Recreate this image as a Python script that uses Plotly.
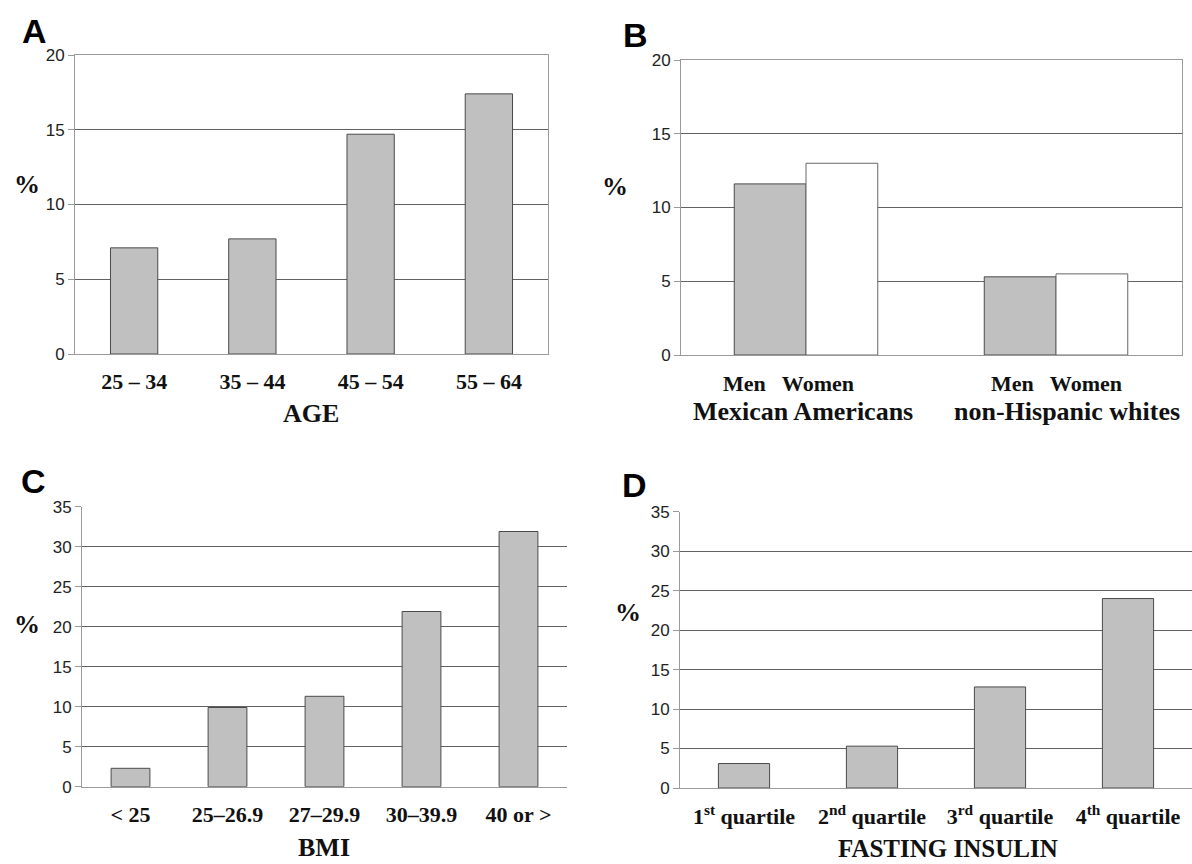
import plotly.graph_objects as go

# ---- data ----
age_groups = ["25 – 34", "35 – 44", "45 – 54", "55 – 64"]
age_pct = [7.1, 7.7, 14.7, 17.4]

ethnic_groups = ["Mexican Americans", "non-Hispanic whites"]
men_pct = [11.6, 5.3]
women_pct = [13.0, 5.5]

bmi_groups = ["< 25", "25–26.9", "27–29.9", "30–39.9", "40 or >"]
bmi_pct = [2.3, 9.9, 11.3, 21.9, 31.9]

insulin_groups = ["1<sup>st</sup> quartile", "2<sup>nd</sup> quartile",
                  "3<sup>rd</sup> quartile", "4<sup>th</sup> quartile"]
insulin_pct = [3.1, 5.3, 12.8, 24.0]

ticks_20 = [0, 5, 10, 15, 20]
ticks_35 = [0, 5, 10, 15, 20, 25, 30, 35]

# ---- style ----
W, H = 1192, 864
GRAY = "#c0c0c0"
EDGE = "#4a4a4a"
GRID = "#626262"
AXL = "#9a9a9a"
SANS = "Liberation Sans, Arial, sans-serif"
SERIF = "Liberation Serif, Times New Roman, serif"


def px(x):
    return x / W


def py(y):
    return 1 - y / H


fig = go.Figure()

bar_line = dict(color=EDGE, width=1)

fig.add_trace(go.Bar(x=age_groups, y=age_pct, width=0.4, xaxis="x", yaxis="y",
                     marker=dict(color=GRAY, line=bar_line)))
fig.add_trace(go.Bar(x=ethnic_groups, y=men_pct, width=0.287, offset=-0.287,
                     xaxis="x2", yaxis="y2",
                     marker=dict(color=GRAY, line=bar_line)))
fig.add_trace(go.Bar(x=ethnic_groups, y=women_pct, width=0.287, offset=0,
                     xaxis="x2", yaxis="y2",
                     marker=dict(color="white", line=dict(color="#666666", width=1))))
fig.add_trace(go.Bar(x=bmi_groups, y=bmi_pct, width=0.4, xaxis="x3", yaxis="y3",
                     marker=dict(color=GRAY, line=bar_line)))
fig.add_trace(go.Bar(x=insulin_groups, y=insulin_pct, width=0.4, xaxis="x4", yaxis="y4",
                     marker=dict(color=GRAY, line=bar_line)))

cat_font = dict(family=SERIF, size=22, color="#111111", weight="bold")
num_font = dict(family=SANS, size=17, color="#222222")


def xax(domain, anchor, mirror, show_labels=True, standoff=10):
    return dict(domain=domain, anchor=anchor, type="category", showline=True,
                linecolor=AXL, linewidth=1, mirror=mirror, ticks="",
                showgrid=False, zeroline=False, showticklabels=show_labels,
                tickfont=cat_font, ticklabelstandoff=standoff, fixedrange=True,
                automargin=False)


def yax(domain, anchor, rng, tickvals, mirror, grid=True):
    return dict(domain=domain, anchor=anchor, range=rng, tickmode="array",
                tickvals=tickvals, showline=True, linecolor=AXL, linewidth=1,
                mirror=mirror, ticks="outside", ticklen=6, tickcolor=AXL,
                showgrid=grid, gridcolor=GRID, gridwidth=1, zeroline=False,
                tickfont=num_font, fixedrange=True, automargin=False)


fig.update_layout(
    width=W, height=H,
    margin=dict(l=0, r=0, t=0, b=0, pad=0, autoexpand=False),
    paper_bgcolor="white", plot_bgcolor="white",
    showlegend=False, barmode="group", hovermode=False,
    xaxis=xax([px(75), px(548)], "y", True, standoff=8),
    yaxis=yax([py(354), py(55)], "x", [0, 20], ticks_20, True),
    xaxis2=xax([px(681), px(1182)], "y2", True, show_labels=False),
    yaxis2=yax([py(355), py(60)], "x2", [0, 20], ticks_20, True),
    xaxis3=xax([px(82), px(567)], "y3", False, standoff=8),
    yaxis3=yax([py(786.7), py(506.7)], "x3", [0, 35], ticks_35, False, grid=False),
    xaxis4=xax([px(680), 1.0], "y4", False, standoff=9),
    yaxis4=yax([py(788), py(511.7)], "x4", [0, 35], ticks_35, False),
)
fig.update_layout(yaxis3=dict(minor=dict(tickmode="array", tickvals=ticks_35[1:-1],
                                         showgrid=True, gridcolor=GRID, gridwidth=1,
                                         ticks="outside", ticklen=6, tickcolor=AXL)))

ann = []


def text(x, y, s, font, xanchor="center"):
    ann.append(dict(x=px(x), y=py(y), xref="paper", yref="paper", text=s,
                    showarrow=False, font=font, xanchor=xanchor, yanchor="middle"))


letter_font = dict(family=SANS, size=34, color="black", weight="bold")
text(34, 31, "A", letter_font)
text(635, 35, "B", letter_font)
text(33, 481, "C", letter_font)
text(634, 485, "D", letter_font)

pct_font = dict(family=SERIF, size=26, color="#111111", weight="bold")
text(27, 184, "%", pct_font)
text(615, 186, "%", pct_font)
text(27, 624, "%", pct_font)
text(628, 612, "%", pct_font)

title_font = dict(family=SERIF, size=26, color="#111111", weight="bold")
text(311, 413, "AGE", title_font)
text(324, 847, "BMI", title_font)
text(948, 848, "FASTING INSULIN", dict(title_font, size=25))

# panel B sub-labels
mw_font = dict(family=SERIF, size=22, color="#111111", weight="bold")
for i, g in enumerate(ethnic_groups):
    ann.append(dict(x=g, y=0, xref="x2", yref="y2", text="Men   Women",
                    showarrow=False, font=mw_font, xanchor="center", yanchor="middle",
                    yshift=-28, xshift=(-18 if i == 0 else 0)))
grp_font = dict(family=SERIF, size=26, color="#111111", weight="bold")
for i, g in enumerate(ethnic_groups):
    ann.append(dict(x=g, y=0, xref="x2", yref="y2", text=g,
                    showarrow=False, font=grp_font, xanchor="center", yanchor="middle",
                    yshift=-56, xshift=(-3 if i == 0 else 11)))

fig.update_layout(annotations=ann)

fig.write_html("out.html", config={"displayModeBar": False},
               post_script="document.body.style.margin='0';")
